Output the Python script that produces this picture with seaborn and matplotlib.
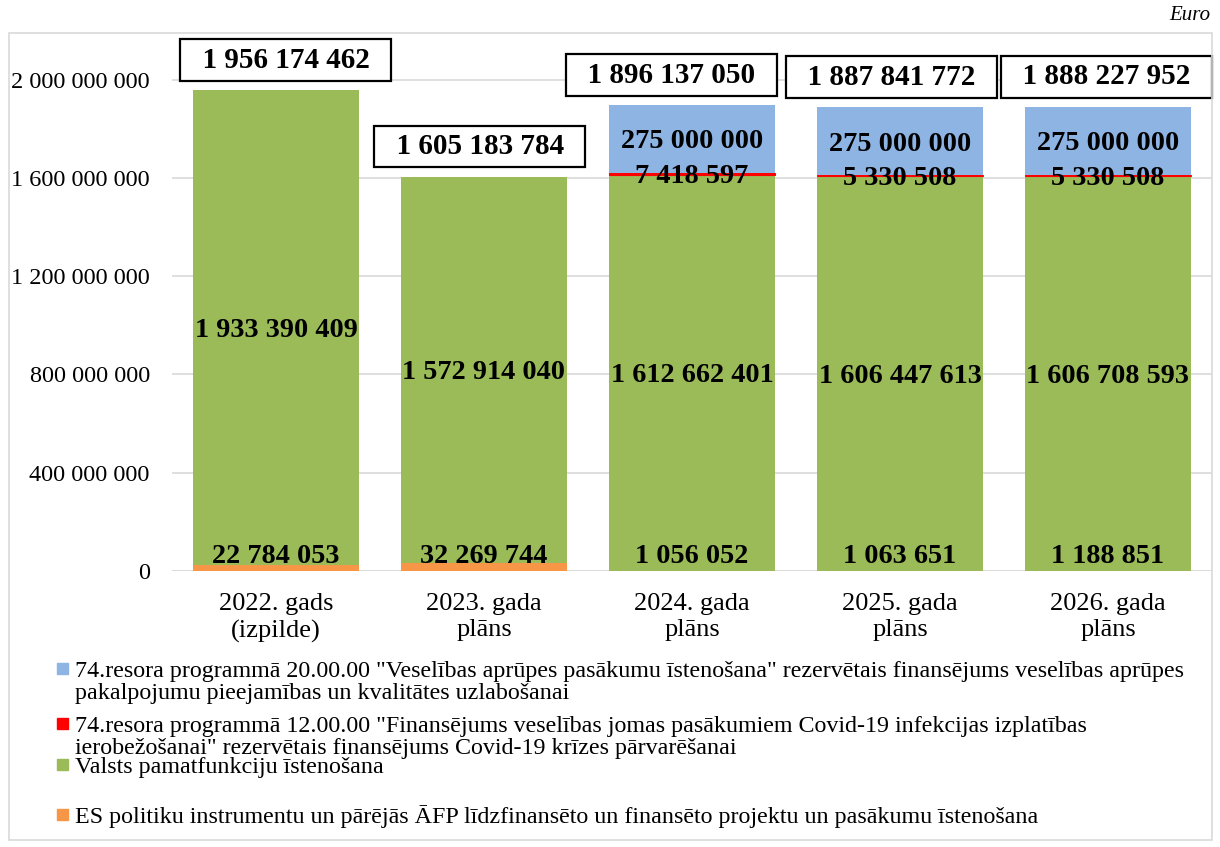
import matplotlib
matplotlib.use('Agg')
import matplotlib.pyplot as plt
from matplotlib.patches import Rectangle
import seaborn as sns

# categories
years = ['2022. gads\n(izpilde)', '2023. gada\nplāns', '2024. gada\nplāns',
         '2025. gada\nplāns', '2026. gada\nplāns']

# series values (euro), bottom to top
es_proj = [22784053, 32269744, 1056052, 1063651, 1188851]
pamatfunk = [1933390409, 1572914040, 1612662401, 1606447613, 1606708593]
covid = [0, 0, 7418597, 5330508, 5330508]
rezerve = [0, 0, 275000000, 275000000, 275000000]

lbl_rez = ['74.resora programmā 20.00.00 "Veselības aprūpes pasākumu īstenošana" '
           'rezervētais finansējums veselības aprūpes',
           'pakalpojumu pieejamības un kvalitātes uzlabošanai']
lbl_cov = ['74.resora programmā 12.00.00 "Finansējums veselības jomas pasākumiem '
           'Covid-19 infekcijas izplatības',
           'ierobežošanai" rezervētais finansējums Covid-19 krīzes pārvarēšanai']
lbl_pam = ['Valsts pamatfunkciju īstenošana']
lbl_es = ['ES politiku instrumentu un pārējās ĀFP līdzfinansēto un finansēto '
          'projektu un pasākumu īstenošana']

c_es, c_pam, c_cov, c_rez = '#F79646', '#9BBB59', '#FF0000', '#8EB4E3'

sns.set_theme(style='white')
plt.rcParams['font.family'] = ['Liberation Serif', 'DejaVu Serif']
plt.rcParams['text.color'] = 'black'


def fmt(v):
    return '{:,}'.format(int(v)).replace(',', ' ')


W, H = 1220, 847
fig = plt.figure(figsize=(W / 100, H / 100), dpi=100)
ax = fig.add_axes([172 / W, 1 - 571 / H, 1040 / W, 538 / H])

# outer chart border
fig.add_artist(Rectangle((9 / W, 7 / H), 1203 / W, 807 / H,
                         transform=fig.transFigure, fill=False,
                         edgecolor='#d9d9d9', linewidth=1.2))

bottom = [0] * len(years)
layers = [(es_proj, c_es), (pamatfunk, c_pam), (covid, c_cov), (rezerve, c_rez)]
for vals, col in layers:
    sns.barplot(x=years, y=vals, bottom=bottom, color=col, saturation=1,
                width=0.8, ax=ax, zorder=3, linewidth=0)
    if col == c_cov:
        # thin red slice: give it an outline so it stays visible
        for p, v in zip(ax.patches[-len(vals):], vals):
            if v > 0:
                p.set_edgecolor(col)
                p.set_linewidth(0.8)
    bottom = [b + v for b, v in zip(bottom, vals)]
totals = bottom

seg = dict(fontsize=20.3, fontweight='bold', color='black', ha='center', zorder=5)

for i in range(len(years)):
    # ES projects: label near base
    ax.annotate(fmt(es_proj[i]), xy=(i, 0), xytext=(0, 6),
                textcoords='offset points', va='baseline', **seg)
    # main functions: centred
    ax.text(i, es_proj[i] + pamatfunk[i] / 2, fmt(pamatfunk[i]),
            va='center_baseline', **seg)
    if covid[i] > 0:
        y0 = es_proj[i] + pamatfunk[i]
        ax.text(i, y0 + covid[i] / 2, fmt(covid[i]), va='center_baseline', **seg)
        ax.text(i, y0 + covid[i] + rezerve[i] / 2, fmt(rezerve[i]),
                va='center_baseline', **seg)

# total boxes
box_dx = [7, -3, -15, -6, -1]
for i, t in enumerate(totals):
    ax.annotate('  ' + fmt(t) + '  ', xy=(i, t), xytext=(box_dx[i], 12),
                textcoords='offset points', va='bottom', ha='center',
                fontsize=21, fontweight='bold', color='black', zorder=6,
                bbox=dict(boxstyle='square,pad=0.25', fc='white', ec='black', lw=1.6))

yt = [0, 4e8, 8e8, 1.2e9, 1.6e9, 2e9]
ax.set_ylim(0, 2.19e9)
ax.set_xlim(-0.5, 4.5)
ax.set_yticks(yt)
ax.set_yticklabels([fmt(v) for v in yt])
ax.yaxis.grid(True, color='#d9d9d9', linewidth=1.2, zorder=0)
ax.set_axisbelow(True)
for s in ax.spines.values():
    s.set_visible(False)
ax.axhline(0, color='#d9d9d9', linewidth=1.2, zorder=2)
ax.tick_params(axis='both', length=0, colors='black')
ax.tick_params(axis='y', pad=16, labelsize=17.5)
ax.tick_params(axis='x', pad=16, labelsize=19)
for lab in ax.get_xticklabels():
    lab.set_linespacing(1.25)
ax.set_xlabel('')
ax.set_ylabel('')

fig.text(1210 / W, 1 - 15 / H, 'Euro', ha='right', va='center',
         fontsize=15, style='italic', color='black')

# legend, laid out like the source (one text per line)
leg_items = [(c_rez, lbl_rez, 677), (c_cov, lbl_cov, 732),
             (c_pam, lbl_pam, 773), (c_es, lbl_es, 823)]
for col, lines, base in leg_items:
    fig.add_artist(Rectangle((57 / W, 1 - (base - 3) / H), 11 / W, 11 / H,
                             transform=fig.transFigure, color=col))
    for k, line in enumerate(lines):
        fig.text(75 / W, 1 - (base + 21.5 * k) / H, line, ha='left',
                 va='baseline', fontsize=17.3, color='black')

fig.savefig('out.png', dpi=100)
